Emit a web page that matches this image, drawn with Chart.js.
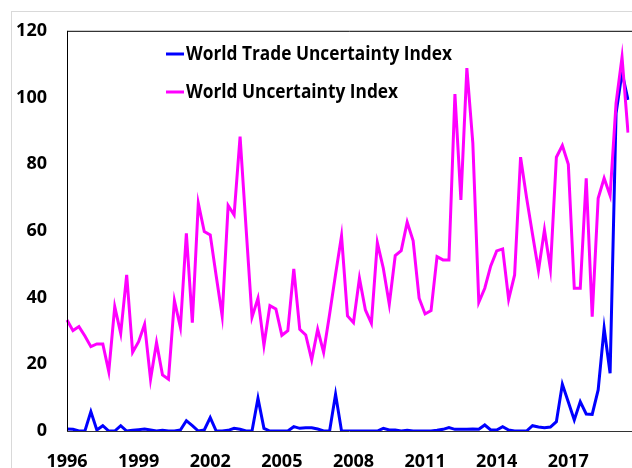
<!DOCTYPE html>
<html>
<head>
<meta charset="utf-8">
<script src="https://cdn.jsdelivr.net/npm/chart.js@4"></script>
<style>
  html, body { margin: 0; padding: 0; background: #fff; overflow: hidden; }
  #wrap { position: relative; width: 632px; height: 468px; }
  #frame { position: absolute; left: 11px; top: 11px; width: 700px; height: 500px; border: 1px solid #d9d9d9; }
  #myChart { position: absolute; left: 0; top: 0; }
</style>
</head>
<body>
<div id="wrap">
  <div id="frame"></div>
  <canvas id="myChart" width="632" height="468"></canvas>
</div>
<script>
// quarterly, 1996Q1 .. 2019Q3
const startYear = 1996;
const nQuarters = 95;
const tickYears = ['1996', '1999', '2002', '2005', '2008', '2011', '2014', '2017'];
const yTicks = [0, 20, 40, 60, 80, 100, 120];

const seriesNames = ['World Trade Uncertainty Index', 'World Uncertainty Index'];
const seriesColors = ['#0000ff', '#ff00ff'];

const wtui = [
  0.6, 0.5, 0, 0, 5.8, 0.3, 1.6, 0, 0, 1.6,
  0, 0.2, 0.4, 0.6, 0.3, 0, 0.2, 0, 0, 0.3,
  3.1, 1.6, 0, 0.3, 4, 0, 0, 0.2, 0.8, 0.5,
  0, 0, 9.8, 0.8, 0, 0, 0, 0, 1.3, 0.8,
  1, 1, 0.6, 0, 0, 11, 0, 0, 0, 0,
  0, 0, 0, 0.8, 0.3, 0.3, 0, 0.2, 0, 0,
  0, 0, 0.2, 0.5, 1, 0.5, 0.5, 0.5, 0.6, 0.5,
  1.8, 0.3, 0.3, 1.3, 0.3, 0, 0, 0, 1.6, 1.2,
  1, 1.2, 2.8, 14, 8.7, 3.3, 8.8, 5.1, 5, 12.3,
  30.8, 17.3, 95.3, 107.5, 99.3
];

const wui = [
  33.3, 30.1, 31.3, 28.5, 25.3, 26.1, 26.1, 17.8, 37.3, 29.3,
  46.8, 23.6, 26.8, 32, 15.5, 26.5, 16.8, 15.5, 39.1, 31.1,
  59.3, 32.5, 68.3, 59.8, 58.8, 46.5, 34.5, 67.6, 64.8, 88.3,
  61, 34.1, 39.8, 25.7, 37.6, 36.6, 28.7, 30.1, 48.6, 30.5,
  28.8, 21.3, 30.5, 23.6, 35, 47, 58.5, 34.5, 32.5, 45.8,
  36.3, 32.3, 56.5, 48.8, 38, 52.6, 54.1, 62.6, 57, 39.8,
  35.1, 36.1, 52.3, 51.3, 51.3, 101, 69.3, 108.8, 86.3, 38.6,
  42.8, 49.5, 54, 54.6, 39.5, 46.8, 82.1, 70, 59, 48.1,
  60.3, 48.6, 82.1, 85.6, 80, 42.8, 42.8, 75.8, 34.3, 69.8,
  75.8, 70.6, 98.3, 112.1, 89.5
];

const quarters = [];
for (let i = 0; i < nQuarters; i++) {
  quarters.push((startYear + Math.floor(i / 4)) + 'Q' + (i % 4 + 1));
}

const tickFont = { family: "'Open Sans', sans-serif", size: 18, weight: 'bold' };

// frame lines + legend drawn inside the plot
const framePlugin = {
  id: 'frame',
  afterDraw(chart) {
    const c = chart.ctx;
    const a = chart.chartArea;
    c.save();
    c.strokeStyle = '#000';
    c.lineWidth = 1;
    c.beginPath();
    c.moveTo(a.left + 0.5, a.top + 0.5);
    c.lineTo(chart.width, a.top + 0.5);
    c.moveTo(a.left + 0.5, a.top);
    c.lineTo(a.left + 0.5, a.bottom + 0.5);
    c.stroke();
    c.strokeStyle = '#333';
    c.beginPath();
    c.moveTo(a.left, a.bottom + 0.5);
    c.lineTo(chart.width, a.bottom + 0.5);
    c.stroke();

    // legend (text squeezed to a Calibri-like width)
    c.font = "bold 19px 'Open Sans', sans-serif";
    c.textBaseline = 'middle';
    c.fillStyle = '#000';
    const rows = [54, 92];
    seriesNames.forEach((name, k) => {
      c.strokeStyle = seriesColors[k];
      c.lineWidth = 3;
      c.beginPath();
      c.moveTo(166, rows[k]);
      c.lineTo(184, rows[k]);
      c.stroke();
      const w = c.measureText(name).width;
      c.fillText(name, 186, rows[k] + 1, w * 0.91);
    });
    c.restore();
  }
};

const ctx = document.getElementById('myChart');

new Chart(ctx, {
  type: 'line',
  data: {
    labels: quarters,
    datasets: [{
      label: seriesNames[1],
      data: wui,
      borderColor: seriesColors[1],
      borderWidth: 3,
      pointRadius: 0,
      tension: 0
    },
    {
      label: seriesNames[0],
      data: wtui,
      borderColor: seriesColors[0],
      borderWidth: 3,
      pointRadius: 0,
      tension: 0
    }]
  },
  options: {
    responsive: false,
    animation: false,
    layout: { padding: { top: 30, right: 4, left: 0, bottom: 0 } },
    plugins: {
      legend: { display: false },
      tooltip: { enabled: false }
    },
    scales: {
      x: {
        grid: { display: false, drawTicks: false },
        border: { display: false },
        afterFit(scale) {
          scale.height = 37;
          scale.paddingLeft = 0;
          scale.paddingRight = 0;
        },
        ticks: {
          autoSkip: false,
          maxRotation: 0,
          padding: 20,
          color: '#000',
          font: tickFont,
          callback(value, index) {
            return index % 12 === 0 ? tickYears[index / 12] : '';
          }
        }
      },
      y: {
        min: 0,
        max: 120,
        grid: { display: false, drawTicks: false },
        border: { display: false },
        afterFit(scale) { scale.width = 67; },
        afterBuildTicks(scale) { scale.ticks = yTicks.map(v => ({ value: v })); },
        ticks: {
          padding: 20,
          color: '#000',
          font: tickFont
        }
      }
    }
  },
  plugins: [framePlugin]
});
</script>
</body>
</html>
